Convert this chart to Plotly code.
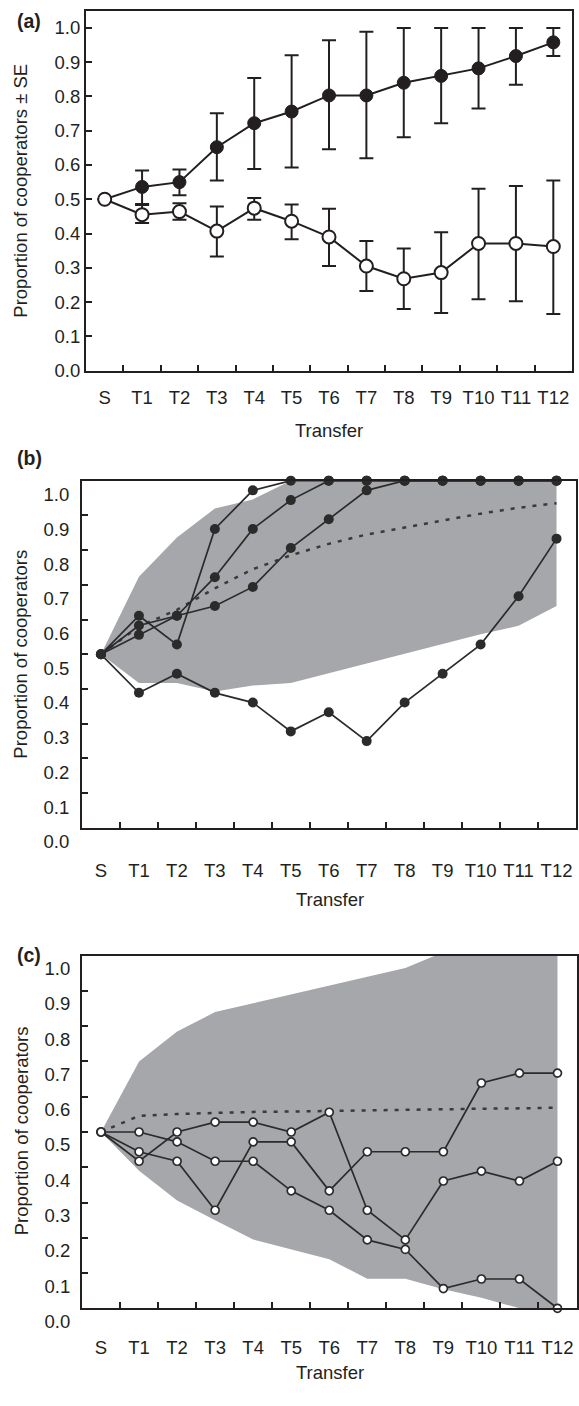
import plotly.graph_objects as go

# ---------------- data ----------------
categories = ["S", "T1", "T2", "T3", "T4", "T5", "T6", "T7", "T8", "T9", "T10", "T11", "T12"]
y_ticks = [0.0, 0.1, 0.2, 0.3, 0.4, 0.5, 0.6, 0.7, 0.8, 0.9, 1.0]
y_ticktext = ["0.0", "0.1", "0.2", "0.3", "0.4", "0.5", "0.6", "0.7", "0.8", "0.9", "1.0"]

# panel (a): means and SE limits
a_filled = [0.500, 0.536, 0.550, 0.652, 0.722, 0.756, 0.803, 0.803, 0.840, 0.860, 0.882, 0.918, 0.958]
a_filled_top = [0.500, 0.584, 0.587, 0.751, 0.854, 0.920, 0.964, 0.989, 1.000, 1.000, 1.000, 1.000, 1.000]
a_filled_bot = [0.500, 0.483, 0.512, 0.555, 0.588, 0.593, 0.646, 0.620, 0.681, 0.722, 0.765, 0.834, 0.918]
a_open = [0.500, 0.455, 0.464, 0.407, 0.474, 0.436, 0.390, 0.305, 0.268, 0.286, 0.371, 0.371, 0.362]
a_open_top = [0.500, 0.486, 0.488, 0.479, 0.504, 0.485, 0.472, 0.378, 0.356, 0.404, 0.531, 0.539, 0.555]
a_open_bot = [0.500, 0.431, 0.440, 0.333, 0.440, 0.383, 0.305, 0.232, 0.180, 0.168, 0.208, 0.202, 0.165]

# panel (b): four replicate lines, simulation band and mean
b_line1 = [0.500, 0.611, 0.528, 0.861, 0.972, 1.000, 1.000, 1.000, 1.000, 1.000, 1.000, 1.000, 1.000]
b_line2 = [0.500, 0.583, 0.611, 0.722, 0.861, 0.944, 1.000, 1.000, 1.000, 1.000, 1.000, 1.000, 1.000]
b_line3 = [0.500, 0.556, 0.611, 0.639, 0.694, 0.806, 0.889, 0.972, 1.000, 1.000, 1.000, 1.000, 1.000]
b_line4 = [0.500, 0.389, 0.444, 0.389, 0.361, 0.278, 0.333, 0.250, 0.361, 0.444, 0.528, 0.667, 0.833]
b_band_upper = [0.500, 0.723, 0.836, 0.920, 0.946, 1.000, 1.000, 1.000, 1.000, 1.000, 1.000, 1.000, 1.000]
b_band_lower = [0.500, 0.417, 0.417, 0.393, 0.410, 0.417, 0.445, 0.472, 0.500, 0.530, 0.558, 0.582, 0.639]
b_mean = [0.500, 0.580, 0.628, 0.690, 0.745, 0.785, 0.818, 0.845, 0.865, 0.885, 0.905, 0.922, 0.935]

# panel (c): three replicate lines, simulation band and mean
c_line1 = [0.500, 0.500, 0.472, 0.417, 0.417, 0.333, 0.278, 0.194, 0.167, 0.056, 0.083, 0.083, 0.000]
c_line2 = [0.500, 0.444, 0.417, 0.278, 0.472, 0.472, 0.333, 0.444, 0.444, 0.444, 0.639, 0.667, 0.667]
c_line3 = [0.500, 0.417, 0.500, 0.528, 0.528, 0.500, 0.556, 0.278, 0.194, 0.361, 0.389, 0.361, 0.417]
c_band_upper = [0.500, 0.700, 0.785, 0.840, 0.865, 0.890, 0.915, 0.940, 0.965, 1.010, 1.030, 1.050, 1.070]
c_band_lower = [0.500, 0.390, 0.306, 0.250, 0.195, 0.167, 0.139, 0.084, 0.084, 0.054, 0.030, 0.000, 0.000]
c_mean = [0.500, 0.546, 0.551, 0.555, 0.557, 0.558, 0.560, 0.562, 0.563, 0.564, 0.566, 0.567, 0.569]

# ---------------- style ----------------
W, H = 579, 1406
INK = "#231f20"
LINE_BC = "#2b2b2b"
BAND = "#a6a7ab"
FONT = "Liberation Sans, Arial, sans-serif"
TICK_SIZE = 18.5
TITLE_SIZE = 18.5


def px(x):
    return x / W


def py(y):
    return 1 - y / H


fig = go.Figure()

# ----- panel (a) -----
fig.add_trace(go.Scatter(
    x=categories, y=a_filled, xaxis="x", yaxis="y", mode="lines+markers",
    line=dict(color=INK, width=2),
    marker=dict(size=13, color=INK, line=dict(color=INK, width=1)),
    error_y=dict(type="data", symmetric=False,
                 array=[t - v for t, v in zip(a_filled_top, a_filled)],
                 arrayminus=[v - b for v, b in zip(a_filled, a_filled_bot)],
                 color=INK, thickness=2, width=7),
    cliponaxis=False,
))
fig.add_trace(go.Scatter(
    x=categories, y=a_open, xaxis="x", yaxis="y", mode="lines+markers",
    line=dict(color=INK, width=2),
    marker=dict(size=13, color="white", line=dict(color=INK, width=2)),
    error_y=dict(type="data", symmetric=False,
                 array=[t - v for t, v in zip(a_open_top, a_open)],
                 arrayminus=[v - b for v, b in zip(a_open, a_open_bot)],
                 color=INK, thickness=2, width=7),
    cliponaxis=False,
))

# ----- panel (b) -----
fig.add_trace(go.Scatter(
    x=categories + categories[::-1], y=b_band_upper + b_band_lower[::-1],
    xaxis="x2", yaxis="y2", mode="lines", fill="toself",
    fillcolor=BAND, line=dict(width=0, color=BAND), hoverinfo="skip",
))
fig.add_trace(go.Scatter(
    x=categories, y=b_mean, xaxis="x2", yaxis="y2", mode="lines",
    line=dict(color="#3a3a3a", width=2.5, dash="4px,7px"),
))
for series in (b_line1, b_line2, b_line3, b_line4):
    fig.add_trace(go.Scatter(
        x=categories, y=series, xaxis="x2", yaxis="y2", mode="lines+markers",
        line=dict(color=LINE_BC, width=1.7),
        marker=dict(size=10, color=LINE_BC),
        cliponaxis=False,
    ))

# ----- panel (c) -----
fig.add_trace(go.Scatter(
    x=categories + categories[::-1], y=c_band_upper + c_band_lower[::-1],
    xaxis="x3", yaxis="y3", mode="lines", fill="toself",
    fillcolor=BAND, line=dict(width=0, color=BAND), hoverinfo="skip",
))
fig.add_trace(go.Scatter(
    x=categories, y=c_mean, xaxis="x3", yaxis="y3", mode="lines",
    line=dict(color="#3a3a3a", width=2.5, dash="4px,7px"),
))
for series in (c_line1, c_line2, c_line3):
    fig.add_trace(go.Scatter(
        x=categories, y=series, xaxis="x3", yaxis="y3", mode="lines+markers",
        line=dict(color=LINE_BC, width=1.7),
        marker=dict(size=8, color="white", line=dict(color=LINE_BC, width=1.7)),
        cliponaxis=False,
    ))


def xax(domain, anchor, standoff):
    return dict(
        domain=domain, anchor=anchor, type="category",
        categoryorder="array", categoryarray=categories,
        range=[-0.5, 12.5], tickson="boundaries", tickangle=0,
        ticks="inside", ticklen=6, tickwidth=2, tickcolor=INK,
        showline=True, linewidth=2, linecolor=INK, mirror=True,
        showgrid=False, zeroline=False,
        tickfont=dict(size=TICK_SIZE, color=INK, family=FONT),
        ticklabelstandoff=standoff, fixedrange=True,
    )


def yax(domain, anchor, rng, shift, standoff):
    return dict(
        domain=domain, anchor=anchor, range=rng,
        tickmode="array", tickvals=y_ticks, ticktext=y_ticktext,
        ticks="inside", ticklen=6, tickwidth=2, tickcolor=INK,
        showline=True, linewidth=2, linecolor=INK, mirror=True,
        showgrid=False, zeroline=False,
        tickfont=dict(size=TICK_SIZE, color=INK, family=FONT),
        ticklabelshift=shift, ticklabelstandoff=standoff, fixedrange=True,
    )


fig.update_layout(
    width=W, height=H, margin=dict(l=0, r=0, t=0, b=0),
    paper_bgcolor="white", plot_bgcolor="white", showlegend=False,
    font=dict(family=FONT, color=INK, size=18),
    xaxis=xax([px(86), px(572)], "y", 9),
    yaxis=yax([py(377), py(11)], "x", [0, 1.05], 0, 0),
    xaxis2=xax([px(82), px(575.5)], "y2", 25),
    yaxis2=yax([py(842.3), py(489)], "x2", [0, 1], 14, 7),
    xaxis3=xax([px(82), px(576.5)], "y3", 22),
    yaxis3=yax([py(1331), py(972.3)], "x3", [0, 1], 13, 6),
)

annotations = [
    ("(a)", 29, 21, 0, True),
    ("(b)", 29, 466, 0, True),
    ("(c)", 29, 972, 0, True),
    ("Transfer", 329, 438, 0, False),
    ("Transfer", 330, 915, 0, False),
    ("Transfer", 330, 1396, 0, False),
    ("Proportion of cooperators ± SE", 21, 194, -90, False),
    ("Proportion of cooperators", 21, 666, -90, False),
    ("Proportion of cooperators", 21, 1151, -90, False),
]
for text, x, y, ang, bold in annotations:
    fig.add_annotation(
        text=f"<b>{text}</b>" if bold else text,
        x=px(x), y=py(y), xref="paper", yref="paper",
        xanchor="center", yanchor="middle", showarrow=False, textangle=ang,
        font=dict(size=19.5 if bold else TITLE_SIZE, color=INK, family=FONT),
    )

fig.write_html(
    "out.html",
    config={"displayModeBar": False, "staticPlot": True},
    post_script="document.body.style.margin='0px';",
)
